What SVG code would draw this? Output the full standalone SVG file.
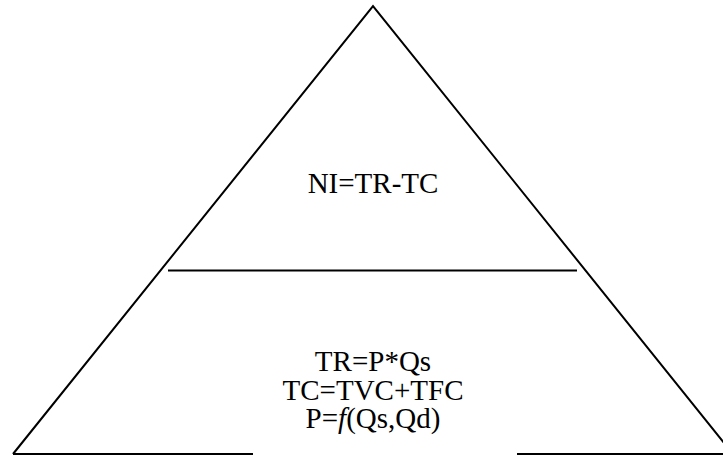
<svg xmlns="http://www.w3.org/2000/svg" width="723" height="455" viewBox="0 0 723 455">
<style>
.ln{stroke:#000;stroke-width:2;fill:none}
.t{font-family:"Liberation Serif","Times New Roman",serif;font-size:29px;fill:#000;text-anchor:middle}
</style>
<rect width="723" height="455" fill="#fff"/>
<g id="connectors">
<path class="ln" d="M13,454 L373,6 L733,454"/>
<line class="ln" x1="13" y1="454" x2="253" y2="454"/>
<line class="ln" x1="517" y1="454" x2="723" y2="454"/>
<line class="ln" x1="168" y1="270.5" x2="577" y2="270.5"/>
</g>
<g id="top">
<text class="t" x="373" y="193">NI=TR-TC</text>
</g>
<g id="bottom">
<text class="t" x="373" y="371">TR=P*Qs</text>
<text class="t" x="373" y="400">TC=TVC+TFC</text>
<text class="t" x="373" y="428">P=<tspan font-style="italic">f</tspan>(Qs,Qd)</text>
</g>
</svg>
